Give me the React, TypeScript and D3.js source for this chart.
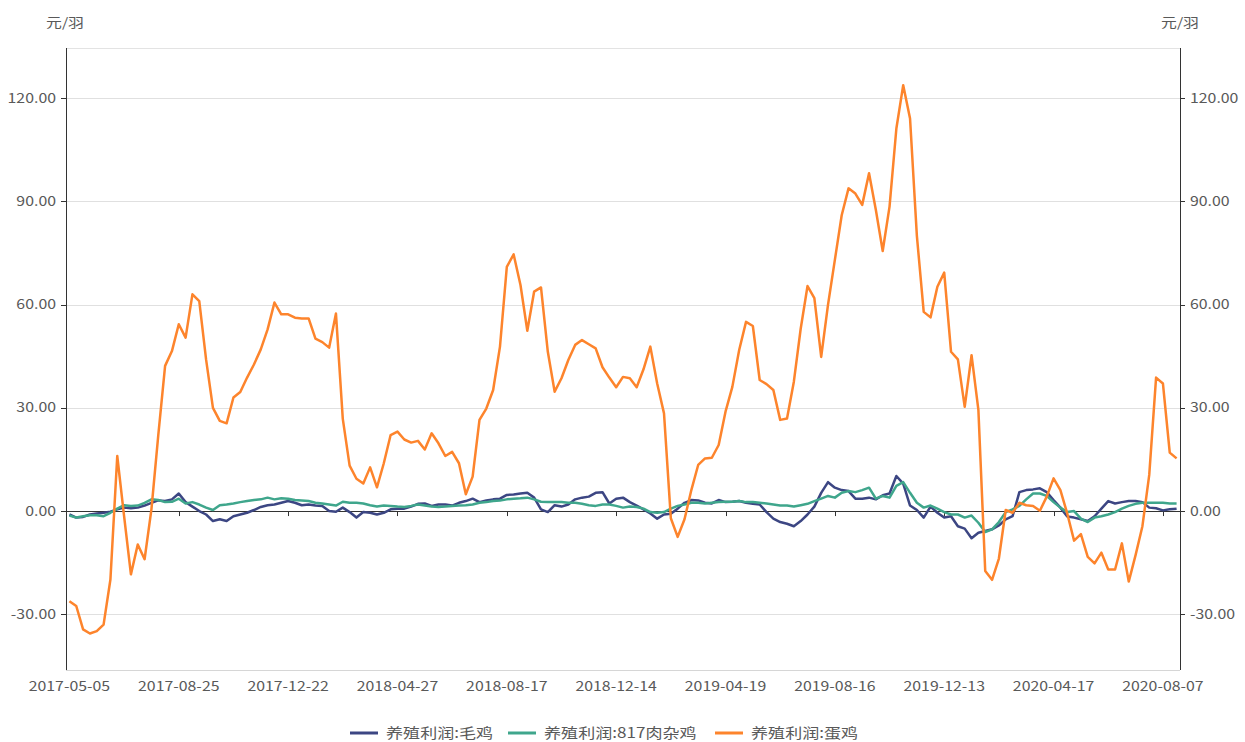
import React from 'react';
import * as d3 from 'd3';

// weekly dates, holiday weeks are missing from the source
const START_DATE = '2017-05-05';
const SKIPPED = ['2017-10-06', '2018-02-16', '2018-02-23', '2018-10-05', '2019-02-08', '2019-02-15',
  '2019-06-07', '2019-10-04', '2020-01-31', '2020-02-07'];
const N_POINTS = 163;

const buildDates = () => {
  const out: string[] = [];
  let t = Date.parse(START_DATE + 'T00:00:00Z');
  while (out.length < N_POINTS) {
    const s = new Date(t).toISOString().slice(0, 10);
    if (!SKIPPED.includes(s)) out.push(s);
    t += 7 * 24 * 3600 * 1000;
  }
  return out;
};
const dates = buildDates();

const yTicks = [-30, 0, 30, 60, 90, 120];

const seriesNames = ['养殖利润:毛鸡', '养殖利润:817肉杂鸡', '养殖利润:蛋鸡'];

const maoji = [
  -1.0, -1.9, -1.7, -1.0, -0.7, -0.5, -0.2, 0.5, 1.0, 0.8, 1.0, 1.6, 2.4, 3.1, 2.9, 3.4,
  5.1, 2.6, 1.3, 0, -1.0, -2.9, -2.4, -2.9, -1.5, -1.0, -0.5, 0.3, 1.2, 1.7, 1.9, 2.4,
  2.9, 2.4, 1.7, 1.9, 1.6, 1.5, 0, -0.2, 1.0, -0.3, -1.9, -0.3, -0.5, -1.0, -0.5, 0.5,
  0.7, 0.7, 1.3, 2.1, 2.2, 1.5, 1.9, 1.9, 1.6, 2.4, 2.9, 3.6, 2.6, 3.1, 3.4, 3.6,
  4.7, 4.8, 5.1, 5.3, 3.9, 0.5, -0.3, 1.7, 1.3, 1.9, 3.4, 3.9, 4.2, 5.3, 5.5, 2.2,
  3.6, 3.9, 2.6, 1.6, 0.5, -0.7, -2.2, -1.0, -0.8, 0.7, 2.4, 3.2, 3.1, 2.4, 2.2, 3.2,
  2.6, 2.7, 2.9, 2.4, 2.1, 1.9, -0.3, -2.2, -3.2, -3.7, -4.4, -2.9, -1.0, 1.3, 5.3, 8.4,
  6.8, 6.1, 5.8, 3.6, 3.6, 3.9, 3.4, 4.6, 5.1, 10.2, 8.0, 1.6, 0.3, -1.9, 1.3, -0.5,
  -1.9, -1.5, -4.4, -5.1, -7.9, -6.3, -5.8, -5.3, -4.2, -2.4, -1.5, 5.5, 6.1, 6.3, 6.6, 5.5,
  3.2, 1.0, -1.6, -1.9, -2.4, -2.9, -1.5, 0.7, 2.9, 2.2, 2.6, 2.9, 2.9, 2.6, 1.0, 0.8,
  0.2, 0.5, 0.7,
];

const rouzaji = [
  -1.3, -1.9, -1.5, -1.2, -1.2, -1.5, -0.5, 0.7, 1.7, 1.5, 1.6, 2.4, 3.4, 3.2, 2.6, 2.7,
  3.6, 2.2, 2.6, 1.9, 1.0, 0.3, 1.7, 1.9, 2.2, 2.6, 2.9, 3.2, 3.4, 3.9, 3.4, 3.7,
  3.6, 3.2, 3.1, 2.9, 2.4, 2.2, 1.9, 1.6, 2.7, 2.4, 2.4, 2.2, 1.7, 1.3, 1.6, 1.5,
  1.3, 1.2, 1.5, 1.9, 1.6, 1.3, 1.2, 1.3, 1.5, 1.6, 1.7, 1.9, 2.4, 2.6, 2.9, 3.1,
  3.4, 3.6, 3.7, 3.9, 3.4, 2.7, 2.6, 2.6, 2.6, 2.4, 2.4, 2.1, 1.7, 1.5, 1.9, 1.9,
  1.5, 1.0, 1.3, 1.2, 0.7, -0.3, -0.5, -0.3, 0.7, 1.5, 1.9, 2.4, 2.4, 2.2, 2.4, 2.6,
  2.7, 2.7, 2.9, 2.6, 2.6, 2.4, 2.2, 1.9, 1.6, 1.6, 1.3, 1.7, 2.1, 2.9, 3.6, 4.4,
  3.9, 5.3, 5.8, 5.5, 6.1, 6.8, 3.6, 4.4, 3.9, 7.3, 8.4, 5.3, 2.4, 1.0, 1.6, 0.7,
  -0.3, -1.0, -1.0, -1.9, -1.3, -3.4, -6.1, -5.3, -3.2, -0.3, 0.5, 1.5, 3.4, 5.1, 5.1, 4.4,
  2.6, 1.0, -0.3, 0, -2.2, -3.2, -1.9, -1.5, -1.0, -0.3, 0.7, 1.5, 2.1, 2.4, 2.4, 2.4,
  2.4, 2.2, 2.2,
];

const danji = [
  -26.2, -27.6, -34.4, -35.6, -34.9, -33.0, -19.9, 16.0, -1.5, -18.4, -9.7, -14.0, 0.5, 22.0, 42.2, 46.5,
  54.3, 50.4, 63.0, 61.0, 44.0, 30.0, 26.2, 25.5, 33.0, 34.6, 38.8, 42.6, 47.0, 52.8, 60.6, 57.2,
  57.2, 56.2, 56.0, 56.0, 50.1, 49.1, 47.5, 57.4, 26.8, 13.2, 9.4, 8.0, 12.7, 6.9, 13.9, 22.1,
  23.1, 20.8, 19.9, 20.4, 17.9, 22.6, 19.7, 16.0, 17.2, 13.9, 4.9, 10.0, 26.5, 29.8, 35.2, 47.8,
  71.0, 74.6, 65.7, 52.4, 63.8, 65.0, 46.3, 34.7, 38.6, 43.9, 48.3, 49.7, 48.5, 47.3, 41.8, 38.8,
  36.0, 39.0, 38.6, 36.0, 41.2, 47.8, 37.1, 28.4, -2.1, -7.5, -2.4, 6.1, 13.4, 15.3, 15.5, 19.2,
  28.9, 36.1, 46.8, 55.0, 53.8, 38.1, 36.9, 35.2, 26.5, 26.9, 37.6, 53.0, 65.4, 61.9, 44.8, 60.0,
  73.0, 86.0, 93.8, 92.3, 89.0, 98.2, 87.5, 75.6, 88.5, 111.2, 123.8, 114.1, 80.0, 57.9, 56.3, 65.2,
  69.3, 46.3, 44.1, 30.3, 45.3, 29.4, -17.4, -20.0, -13.8, 0.3, -0.5, 2.4, 1.7, 1.5, 0.1, 4.2,
  9.5, 6.1, -0.7, -8.6, -6.7, -13.3, -15.2, -12.1, -17.0, -17.0, -9.4, -20.5, -12.8, -4.4, 10.5, 38.8,
  37.1, 17.0, 15.3,
];

const colors = ['#3c4683', '#3fa68c', '#fd842c'];
const FONT = '"Noto Sans CJK SC", "Noto Sans", sans-serif';
const TEXT_COLOR = '#595959';
const STRETCH = 1.22; // reference text is drawn wider than normal

function Label({ x, y, anchor = 'start', size = 13, children }:
  { x: number; y: number; anchor?: string; size?: number; children: React.ReactNode }) {
  return (
    <text transform={`translate(${x},${y}) scale(${STRETCH},1)`} dy="0.35em" textAnchor={anchor}
      fontSize={size} fill={TEXT_COLOR}>{children}</text>
  );
}

export default function App() {
  const W = 1245, H = 742;
  const left = 66, right = 1180, top = 48, bottom = 670;

  const x = d3.scalePoint<string>().domain(dates).range([left, right]).padding(0.5);
  const y = d3.scaleLinear().domain([-46.2, 134.6]).range([bottom, top]);

  const line = d3.line<number>()
    .x((d, i) => x(dates[i]) as number)
    .y(d => y(d));

  const allSeries = [maoji, rouzaji, danji];
  const xLabelIdx = dates.map((_, i) => i).filter(i => i % 16 === 0);
  const py = (v: number) => Math.round(y(v)) + 0.5;

  const legendX = [350, 508, 715];

  return (
    <svg width={W} height={H} style={{ position: 'fixed', left: 0, top: 0, background: '#fff' }}
      fontFamily={FONT}>
      {/* grid */}
      <line x1={left} x2={right} y1={top + 0.5} y2={top + 0.5} stroke="#e3e3e3" />
      {yTicks.filter(t => t !== 0).map(t => (
        <line key={t} x1={left} x2={right} y1={py(t)} y2={py(t)} stroke="#e0e0e0" />
      ))}
      <line x1={left} x2={right} y1={bottom + 0.5} y2={bottom + 0.5} stroke="#d6d6d6" />

      {/* left axis */}
      <line x1={left + 0.5} x2={left + 0.5} y1={top} y2={bottom} stroke="#333" />
      {yTicks.map(t => (
        <g key={'l' + t}>
          <line x1={left - 5} x2={left} y1={py(t)} y2={py(t)} stroke="#333" />
          <Label x={left - 10} y={y(t)} anchor="end">{t.toFixed(2)}</Label>
        </g>
      ))}
      <Label x={65} y={22} anchor="middle">元/羽</Label>

      {/* right axis */}
      <line x1={right + 0.5} x2={right + 0.5} y1={top} y2={bottom} stroke="#333" />
      {yTicks.map(t => (
        <g key={'r' + t}>
          <line x1={right} x2={right + 5} y1={py(t)} y2={py(t)} stroke="#333" />
          <Label x={right + 10} y={y(t)}>{t.toFixed(2)}</Label>
        </g>
      ))}
      <Label x={1180} y={22} anchor="middle">元/羽</Label>

      {/* x axis on zero */}
      <line x1={left} x2={right} y1={py(0)} y2={py(0)} stroke="#333" />
      {xLabelIdx.map(i => {
        const cx = x(dates[i]) as number;
        return (
          <g key={i}>
            {i > 0 && <line x1={Math.round(cx) + 0.5} x2={Math.round(cx) + 0.5} y1={y(0)} y2={y(0) + 5} stroke="#333" />}
            <Label x={cx} y={686} anchor="middle">{dates[i]}</Label>
          </g>
        );
      })}

      {/* series */}
      {allSeries.map((s, k) => (
        <path key={k} d={line(s) || ''} fill="none" stroke={colors[k]} strokeWidth={2.5} strokeLinejoin="round" />
      ))}

      {/* legend */}
      {seriesNames.map((name, k) => (
        <g key={name}>
          <line x1={legendX[k]} x2={legendX[k] + 28} y1={733} y2={733} stroke={colors[k]} strokeWidth={3} />
          <Label x={legendX[k] + 36} y={733} size={14}>{name}</Label>
        </g>
      ))}
    </svg>
  );
}
